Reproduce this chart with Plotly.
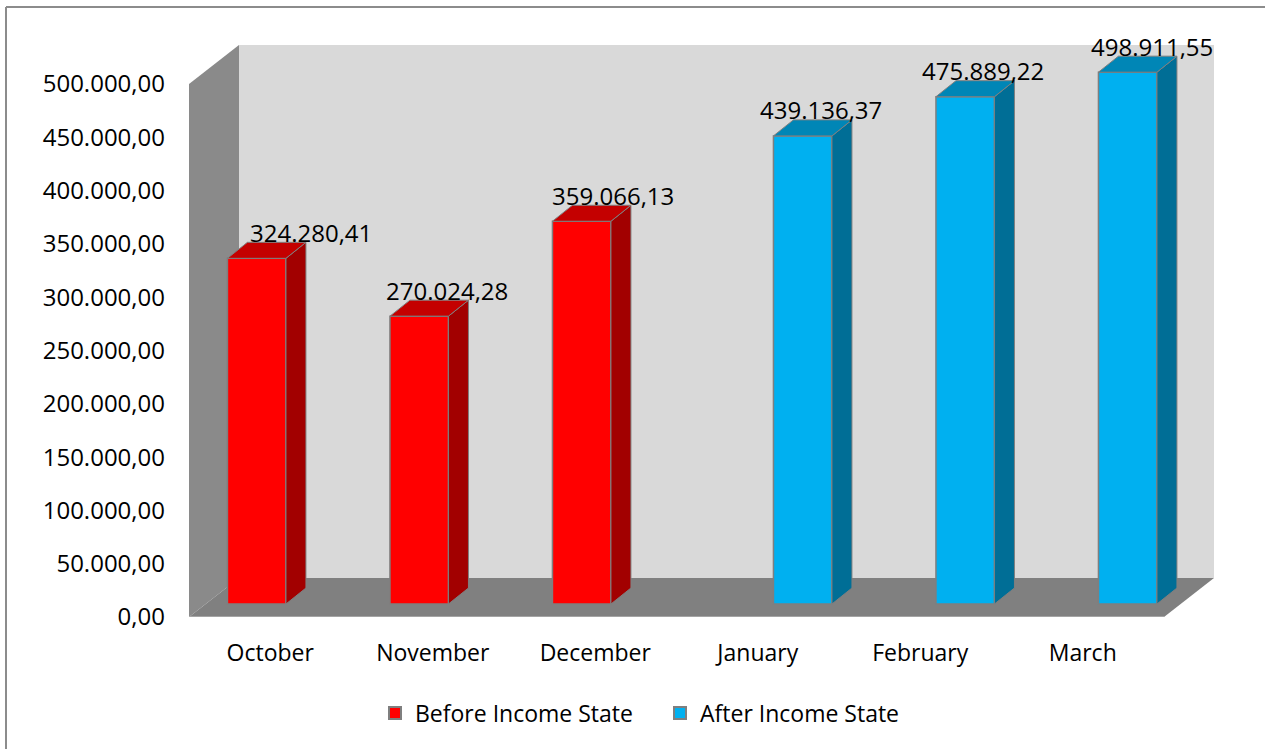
import plotly.graph_objects as go

# ---------------- data ----------------
months = ["October", "November", "December", "January", "February", "March"]
before_income = [324280.41, 270024.28, 359066.13, None, None, None]
after_income = [None, None, None, 439136.37, 475889.22, 498911.55]
series_names = ["Before Income State", "After Income State"]
y_ticks = [0, 50000, 100000, 150000, 200000, 250000, 300000, 350000, 400000, 450000, 500000]

# ---------------- style / geometry ----------------
W, H = 1265, 749
ML, MR, MT, MB = 189, 50, 44, 132
PX_CAT = 162.5                      # pixels per category
Y_MAX_FRONT = 500000
PX_PER_VAL = 533 / Y_MAX_FRONT      # pixels per value unit
plot_w = W - ML - MR
plot_h = H - MT - MB
x_range = [-0.5, -0.5 + plot_w / PX_CAT]
y_range = [0, plot_h / PX_PER_VAL]

def dx(px):
    return px / PX_CAT

def dy(px):
    return px / PX_PER_VAL

WALL = (dx(50), dy(39))       # depth of the room
BOFF = (dx(15.7), dy(13))     # offset of bar front from front plane
BDEP = (dx(20), dy(16))       # depth of each bar
BW = 0.36                     # bar width (category units)
GOFF = 0.18                   # group offset

FONT = "Open Sans"
FS = 24
FS_CAT = 23
EDGE = "#7f7f7f"

colors = {
    "front": ["#ff0000", "#00b0f0"],
    "side": ["#a20000", "#006e96"],
    "top": ["#c40000", "#0086b6"],
}


def fmt(v):
    s = f"{v:,.2f}"
    return s.replace(",", "X").replace(".", ",").replace("X", ".")


fig = go.Figure()

# ---------------- room (walls and floor) ----------------
x0, x1 = -0.5, 5.5
wx, wy = WALL
shapes = [
    # back wall
    dict(type="rect", xref="x", yref="y", x0=x0 + wx, x1=x1 + wx, y0=wy, y1=Y_MAX_FRONT + wy,
         fillcolor="#d9d9d9", line=dict(width=0), layer="below"),
    # left wall
    dict(type="path", xref="x", yref="y",
         path=f"M{x0},{0} L{x0 + wx},{wy} L{x0 + wx},{Y_MAX_FRONT + wy} L{x0},{Y_MAX_FRONT} Z",
         fillcolor="#8a8a8a", line=dict(width=0), layer="below"),
    # floor
    dict(type="path", xref="x", yref="y",
         path=f"M{x0},{0} L{x1},{0} L{x1 + wx},{wy} L{x0 + wx},{wy} Z",
         fillcolor="#808080", line=dict(width=0), layer="below"),
    # floor front edge highlight
    dict(type="line", xref="x", yref="y", x0=x0, x1=x1, y0=0, y1=0,
         line=dict(color="#b0b0b0", width=1.5), layer="below"),
    # outer chart border (left and top)
    dict(type="line", xref="paper", yref="paper",
         x0=(6 - ML) / plot_w, x1=(6 - ML) / plot_w,
         y0=(H - MB - 7) / plot_h, y1=(H - MB - H - 5) / plot_h,
         line=dict(color="#8c8c8c", width=2)),
    dict(type="line", xref="paper", yref="paper",
         x0=(6 - ML) / plot_w, x1=(W + 5 - ML) / plot_w,
         y0=(H - MB - 7) / plot_h, y1=(H - MB - 7) / plot_h,
         line=dict(color="#8c8c8c", width=2)),
]

# ---------------- bars ----------------
label_xshift = [54, 28, 31, 18, 18, 24]
annotations = []
for si, (name, vals) in enumerate(zip(series_names, [before_income, after_income])):
    g = -GOFF if si == 0 else GOFF
    xs, ys = [], []
    side_x, side_y, top_x, top_y = [], [], [], []
    for i, v in enumerate(vals):
        if v is None:
            continue
        xc = i + BOFF[0] + g
        xs.append(xc)
        ys.append(v)
        xl, xr = xc - BW / 2, xc + BW / 2
        yb, yt = BOFF[1], BOFF[1] + v
        side_x += [xr, xr + BDEP[0], xr + BDEP[0], xr, xr, None]
        side_y += [yb, yb + BDEP[1], yt + BDEP[1], yt, yb, None]
        top_x += [xl, xr, xr + BDEP[0], xl + BDEP[0], xl, None]
        top_y += [yt, yt, yt + BDEP[1], yt + BDEP[1], yt, None]
        annotations.append(dict(
            x=xc, y=yt, xref="x", yref="y", text=fmt(v), showarrow=False,
            xanchor="center", yanchor="middle", yshift=26, xshift=label_xshift[i],
            font=dict(family=FONT, size=FS, color="#000000")))
    fig.add_trace(go.Bar(
        x=xs, y=ys, base=[BOFF[1]] * len(xs), width=BW, name=name,
        marker=dict(color=colors["front"][si], line=dict(color=EDGE, width=1.5)),
        hoverinfo="skip"))
    fig.add_trace(go.Scatter(
        x=side_x, y=side_y, mode="lines", fill="toself", fillcolor=colors["side"][si],
        line=dict(color=EDGE, width=1), showlegend=False, hoverinfo="skip"))
    fig.add_trace(go.Scatter(
        x=top_x, y=top_y, mode="lines", fill="toself", fillcolor=colors["top"][si],
        line=dict(color=EDGE, width=1), showlegend=False, hoverinfo="skip"))

fig.update_layout(
    width=W, height=H,
    margin=dict(l=ML, r=MR, t=MT, b=MB, pad=0),
    paper_bgcolor="white", plot_bgcolor="rgba(0,0,0,0)",
    barmode="overlay",
    separators=",.",
    shapes=shapes,
    annotations=annotations,
    font=dict(family=FONT, size=FS, color="#000000"),
    showlegend=True,
    legend=dict(orientation="h", x=(660 - ML) / plot_w, xanchor="center",
                y=-(713 - (H - MB)) / plot_h, yanchor="middle",
                font=dict(family=FONT, size=FS_CAT, color="#000000"),
                entrywidth=240, entrywidthmode="pixels",
                itemsizing="constant", traceorder="normal",
                bgcolor="rgba(0,0,0,0)"),
    xaxis=dict(range=x_range, tickmode="array", tickvals=list(range(len(months))),
               ticktext=months, showgrid=False, zeroline=False, showline=False,
               ticks="", ticklabelstandoff=20, fixedrange=True,
               tickfont=dict(family=FONT, size=FS_CAT, color="#000000")),
    yaxis=dict(range=y_range, tickmode="array", tickvals=y_ticks, tickformat=",.2f",
               showgrid=False, zeroline=False, showline=False, ticks="",
               ticklabelstandoff=23, fixedrange=True,
               tickfont=dict(family=FONT, size=FS, color="#000000")),
)

fig.write_html("out.html")
